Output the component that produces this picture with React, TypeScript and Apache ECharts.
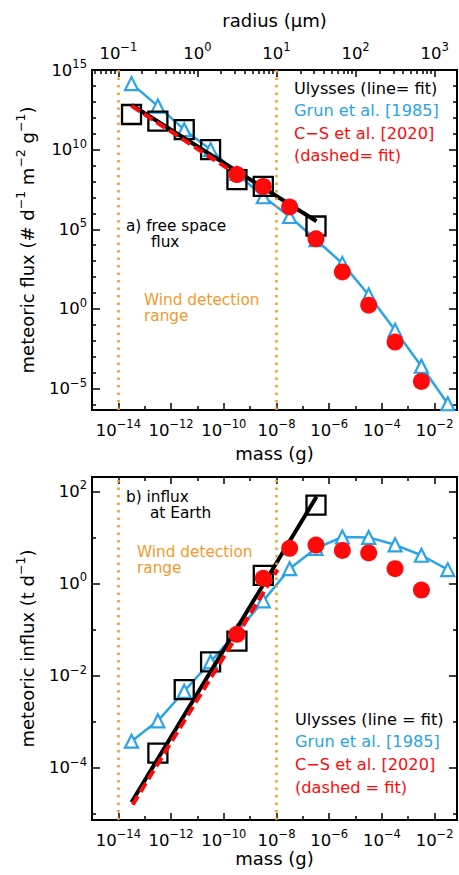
import React, { useEffect, useRef } from "react";
import * as echarts from "echarts";

const FONT = "DejaVu Sans";
const BLUE = "#2aa4e8";
const RED = "#ff0a0a";
const ORANGE = "#f39a2b";

// mass bins (g) at half decades
const massBins = [3.16e-14, 3.16e-13, 3.16e-12, 3.16e-11, 3.16e-10, 3.16e-9, 3.16e-8, 3.16e-7, 3.16e-6, 3.16e-5, 3.16e-4, 3.16e-3, 3.16e-2];

// panel a: free space flux (# d-1 m-2 g-1)
const grunFlux = [1.4e14, 5.4e12, 1.8e11, 1.0e10, 3.2e8, 1.1e7, 6.3e5, 2.2e4, 7.2e2, 7.4, 4.6e-2, 2.5e-4, 1.1e-6];
const ulyssesMassA = [3.16e-14, 3.16e-13, 3.16e-12, 3.16e-11, 3.16e-10, 3.16e-9, 3.16e-7];
const ulyssesFluxA = [1.6e12, 6.2e11, 1.8e11, 1.0e10, 1.3e8, 4.9e7, 1.6e5];
const ulyssesFitMassA = [3.16e-14, 3.3e-7];
const ulyssesFitFluxA = [6.3e12, 3.2e5];
const csMass = [3.16e-10, 3.16e-9, 3.16e-8, 3.16e-7, 3.16e-6, 3.16e-5, 3.16e-4, 3.16e-3];
const csFluxA = [2.7e8, 4.9e7, 2.5e6, 2.5e4, 2.1e2, 1.7, 8.3e-3, 2.8e-5];
const csFitMassA = [3.16e-14, 2.5e-10];
const csFitFluxA = [5.6e12, 3.5e8];

// panel b: influx at Earth (t d-1)
const grunInflux = [3.8e-4, 1.05e-3, 4.6e-3, 2.0e-2, 8.9e-2, 0.42, 2.1, 5.8, 10.2, 10.0, 6.9, 4.1, 2.0];
const ulyssesMassB = [3.16e-13, 3.16e-12, 3.16e-11, 3.16e-10, 3.16e-9, 3.16e-7];
const ulyssesInfluxB = [2.1e-4, 5.0e-3, 2.0e-2, 5.6e-2, 1.5, 50];
const ulyssesFitMassB = [3.16e-14, 3.3e-7];
const ulyssesFitInfluxB = [1.8e-5, 76];
const csInfluxB = [7.9e-2, 1.3, 5.8, 6.8, 5.2, 4.6, 2.1, 0.72];
const csFitMassB = [3.5e-14, 1.1e-8];
const csFitInfluxB = [1.6e-5, 2.0];

// Wind detection range (g)
const windRange = [1e-14, 1e-8];

// tick exponents
const massTickExps = [-14, -12, -10, -8, -6, -4, -2];
const massMinorExps = [-15, -13, -11, -9, -7, -5, -3];
const radiusTickExps = [-1, 0, 1, 2, 3];
const fluxTickExps = [-5, 0, 5, 10, 15];
const fluxMinorExps = [-6, -4, -3, -2, -1, 1, 2, 3, 4, 6, 7, 8, 9, 11, 12, 13, 14];
const influxTickExps = [-4, -2, 0, 2];
const influxMinorExps = [-5, -3, -1, 1];

const X_MIN = -15, X_MAX = -1.15;
const FLUX_MIN = -6.35, FLUX_MAX = 15;
const INFLUX_MIN = -5.13, INFLUX_MAX = 2.31;

const lg = (v: number) => Math.log10(v);
const pts = (xs: number[], ys: number[]) => xs.map((x, i) => [lg(x), lg(ys[i])]);
const massExpOfRadius = (logr: number) => -14 + 3 * (logr + 1);
const supTxt = (n: number) => (n < 0 ? "\u2212" + Math.abs(n) : String(n));
const pow10 = (n: number) => `{b|10}{s|${supTxt(n)}}`;

const rich = {
  b: { fontSize: 16.5, lineHeight: 24, fontFamily: FONT, color: "#000" },
  s: { fontSize: 11.5, lineHeight: 13, verticalAlign: "top", fontFamily: FONT, color: "#000" },
};
const nameRich = {
  b: { fontSize: 18, lineHeight: 26, fontFamily: FONT, color: "#000" },
  s: { fontSize: 12.5, lineHeight: 14, verticalAlign: "top", fontFamily: FONT, color: "#000" },
};

const radiusMajor = radiusTickExps.map(massExpOfRadius);
const radiusMinor: number[] = [];
for (let n = -2; n <= 3; n++) {
  for (let k = 2; k <= 9; k++) {
    const m = massExpOfRadius(n + Math.log10(k));
    if (m > X_MIN && m < X_MAX) radiusMinor.push(m);
  }
}

const axisLine = { show: true, onZero: false, lineStyle: { color: "#000", width: 2 } };

function xAx(gridIndex: number, position: string, ticks: number[], length: number, label?: any, name?: any) {
  return {
    type: "value", gridIndex, position, min: X_MIN, max: X_MAX,
    axisLine,
    axisTick: { show: true, inside: true, length, customValues: ticks, lineStyle: { color: "#000", width: 1.5 } },
    axisLabel: label ? { show: true, rich, ...label } : { show: false },
    splitLine: { show: false },
    ...(name || {}),
  };
}
function yAx(gridIndex: number, position: string, min: number, max: number, ticks: number[], length: number, label?: any, name?: any) {
  return {
    type: "value", gridIndex, position, min, max,
    axisLine,
    axisTick: { show: true, inside: true, length, customValues: ticks, lineStyle: { color: "#000", width: 1.5 } },
    axisLabel: label ? { show: true, rich, ...label } : { show: false },
    splitLine: { show: false },
    ...(name || {}),
  };
}

function panelSeries(xi: number, yi: number, grun: number[], uM: number[], uV: number[], ufM: number[], ufV: number[], cV: number[], cfM: number[], cfV: number[]) {
  return [
    {
      type: "line", xAxisIndex: xi, yAxisIndex: yi, silent: true, z: 2,
      data: pts(massBins, grun), symbol: "triangle", symbolSize: 13,
      lineStyle: { color: BLUE, width: 2.5 },
      itemStyle: { color: "#fff", borderColor: BLUE, borderWidth: 2.2, opacity: 1 },
      markLine: {
        silent: true, symbol: ["none", "none"], label: { show: false },
        lineStyle: { color: ORANGE, type: [2.5, 5], width: 2.5 },
        data: windRange.map((m) => ({ xAxis: lg(m) })),
      },
    },
    {
      type: "scatter", xAxisIndex: xi, yAxisIndex: yi, silent: true, z: 3,
      data: pts(uM, uV), symbol: "rect", symbolSize: 19,
      itemStyle: { color: "rgba(0,0,0,0)", borderColor: "#000", borderWidth: 2.3, opacity: 1 },
    },
    {
      type: "line", xAxisIndex: xi, yAxisIndex: yi, silent: true, z: 4,
      data: pts(ufM, ufV), symbol: "none",
      lineStyle: { color: "#000", width: 4 },
    },
    {
      type: "line", xAxisIndex: xi, yAxisIndex: yi, silent: true, z: 5,
      data: pts(cfM, cfV), symbol: "none",
      lineStyle: { color: RED, width: 4, type: [10, 5] },
    },
    {
      type: "scatter", xAxisIndex: xi, yAxisIndex: yi, silent: true, z: 6,
      data: pts(csMass, cV), symbol: "circle", symbolSize: 17,
      itemStyle: { color: RED, opacity: 1 },
    },
  ];
}

function txt(text: string, x: number, y: number, fill: string, size = 16.2) {
  return {
    type: "text", x, y, silent: true, z: 100,
    style: { text, fill, fontSize: size, fontFamily: FONT, textAlign: "left", textVerticalAlign: "middle", align: "left", verticalAlign: "middle" },
  };
}

export default function App() {
  const ref = useRef<HTMLDivElement>(null);
  useEffect(() => {
    if (!ref.current) return;
    const chart = echarts.init(ref.current, undefined, { renderer: "svg" });
    const massLabel = { customValues: massTickExps, formatter: (v: number) => pow10(Math.round(v)), margin: 8 };
    const option: any = {
      animation: false,
      backgroundColor: "#fff",
      grid: [
        { left: 92, top: 70, width: 365, height: 340 },
        { left: 92, top: 477, width: 365, height: 343 },
      ],
      xAxis: [
        xAx(0, "bottom", massTickExps, 7, massLabel, {
          name: "mass (g)", nameLocation: "middle", nameGap: 34,
          nameTextStyle: { fontSize: 18, fontFamily: FONT, color: "#000" },
        }),
        xAx(0, "bottom", massMinorExps, 4),
        xAx(0, "top", radiusMajor, 7, {
          customValues: radiusMajor,
          formatter: (v: number) => pow10(Math.round((v + 14) / 3 - 1)),
          margin: 5,
        }, {
          name: "radius (\u03bcm)", nameLocation: "middle", nameGap: 41,
          nameTextStyle: { fontSize: 18, fontFamily: FONT, color: "#000" },
        }),
        xAx(0, "top", radiusMinor, 4),
        xAx(1, "bottom", massTickExps, 7, massLabel, {
          name: "mass (g)", nameLocation: "middle", nameGap: 28,
          nameTextStyle: { fontSize: 18, fontFamily: FONT, color: "#000" },
        }),
        xAx(1, "bottom", massMinorExps, 4),
        xAx(1, "top", massTickExps, 7),
        xAx(1, "top", massMinorExps, 4),
      ],
      yAxis: [
        yAx(0, "left", FLUX_MIN, FLUX_MAX, fluxTickExps, 8, {
          customValues: fluxTickExps, formatter: (v: number) => pow10(Math.round(v)), margin: 5,
        }, {
          name: "{b|meteoric flux (# d}{s|\u22121}{b| m}{s|\u22122}{b| g}{s|\u22121}{b|)}",
          nameLocation: "middle", nameGap: 52, nameRotate: 90,
          nameTextStyle: { rich: nameRich },
        }),
        yAx(0, "left", FLUX_MIN, FLUX_MAX, fluxMinorExps, 4),
        yAx(0, "right", FLUX_MIN, FLUX_MAX, fluxTickExps, 8),
        yAx(0, "right", FLUX_MIN, FLUX_MAX, fluxMinorExps, 4),
        yAx(1, "left", INFLUX_MIN, INFLUX_MAX, influxTickExps, 8, {
          customValues: influxTickExps, formatter: (v: number) => pow10(Math.round(v)), margin: 5,
        }, {
          name: "{b|meteoric influx (t d}{s|\u22121}{b|)}",
          nameLocation: "middle", nameGap: 52, nameRotate: 90,
          nameTextStyle: { rich: nameRich },
        }),
        yAx(1, "left", INFLUX_MIN, INFLUX_MAX, influxMinorExps, 4),
        yAx(1, "right", INFLUX_MIN, INFLUX_MAX, influxTickExps, 8),
        yAx(1, "right", INFLUX_MIN, INFLUX_MAX, influxMinorExps, 4),
      ],
      series: [
        ...panelSeries(0, 0, grunFlux, ulyssesMassA, ulyssesFluxA, ulyssesFitMassA, ulyssesFitFluxA, csFluxA, csFitMassA, csFitFluxA),
        ...panelSeries(4, 4, grunInflux, ulyssesMassB, ulyssesInfluxB, ulyssesFitMassB, ulyssesFitInfluxB, csInfluxB, csFitMassB, csFitInfluxB),
      ],
      graphic: [
        txt("Ulysses (line= fit)", 294, 88, "#000"),
        txt("Grun et al. [1985]", 294, 110.5, BLUE),
        txt("C\u2212S et al. [2020]", 294, 133, RED),
        txt("(dashed= fit)", 294, 155.5, RED),
        txt("a) free space", 126, 225.5, "#000", 15.3),
        txt("flux", 151, 242, "#000", 15.3),
        txt("Wind detection", 144, 299.5, ORANGE, 15.3),
        txt("range", 144, 316, ORANGE, 15.3),
        txt("b) influx", 126, 496.5, "#000", 15.3),
        txt("at Earth", 150, 513, "#000", 15.3),
        txt("Wind detection", 137, 551.5, ORANGE, 15.3),
        txt("range", 137, 568, ORANGE, 15.3),
        txt("Ulysses (line = fit)", 295, 719, "#000"),
        txt("Grun et al. [1985]", 295, 741, BLUE),
        txt("C\u2212S et al. [2020]", 295, 764, RED),
        txt("(dashed = fit)", 295, 787, RED),
      ],
    };
    chart.setOption(option);
    return () => chart.dispose();
  }, []);
  return <div ref={ref} style={{ position: "fixed", left: 0, top: 0, width: 459, height: 875, background: "#fff" }} />;
}
